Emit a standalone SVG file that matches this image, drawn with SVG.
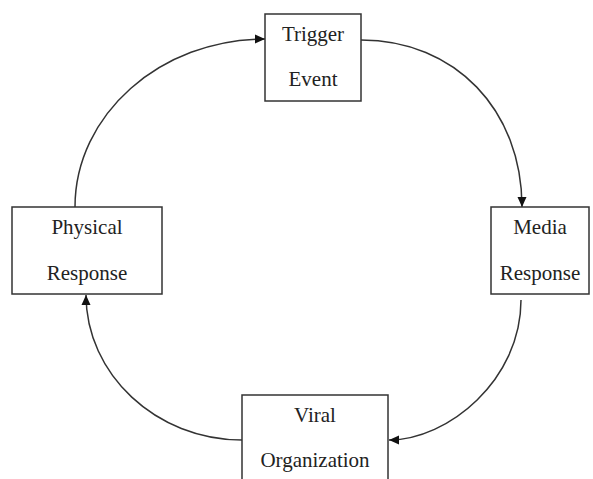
<svg xmlns="http://www.w3.org/2000/svg" width="593" height="479" viewBox="0 0 593 479">
  <style>
    .box { fill: #fff; stroke: #333; stroke-width: 1.5; }
    .lbl { font-family: "Liberation Serif", "Times New Roman", serif; font-size: 21px; fill: #222; text-anchor: middle; }
    .edge { fill: none; stroke: #333; stroke-width: 1.5; marker-end: url(#arrow); }
  </style>
  <defs>
    <marker id="arrow" viewBox="0 0 10 10" refX="10" refY="5" markerWidth="10" markerHeight="10" markerUnits="userSpaceOnUse" orient="auto">
      <path d="M0,0.5 L10,5 L0,9.5 Z" fill="#111"/>
    </marker>
  </defs>
  <rect width="593" height="479" fill="#fff"/>
  <g id="connectors">
    <path class="edge" d="M75,207 C75,115 160,39 265,39"/>
    <path class="edge" d="M361,40 C455,40 522,110 522,207"/>
    <path class="edge" d="M521,300 C521,380 448,440 389,440"/>
    <path class="edge" d="M242,440 C156,440 86,374 86,295"/>
  </g>
  <g id="trigger-event">
    <rect class="box" x="265" y="14" width="96" height="87"/>
    <text class="lbl" x="313" y="41">Trigger</text>
    <text class="lbl" x="313" y="86">Event</text>
  </g>
  <g id="media-response">
    <rect class="box" x="491" y="207" width="98" height="87"/>
    <text class="lbl" x="540" y="234">Media</text>
    <text class="lbl" x="540" y="280">Response</text>
  </g>
  <g id="viral-organization">
    <rect class="box" x="242" y="395" width="146" height="100"/>
    <text class="lbl" x="315" y="422">Viral</text>
    <text class="lbl" x="315" y="467">Organization</text>
  </g>
  <g id="physical-response">
    <rect class="box" x="12" y="207" width="150" height="87"/>
    <text class="lbl" x="87" y="234">Physical</text>
    <text class="lbl" x="87" y="280">Response</text>
  </g>
</svg>
